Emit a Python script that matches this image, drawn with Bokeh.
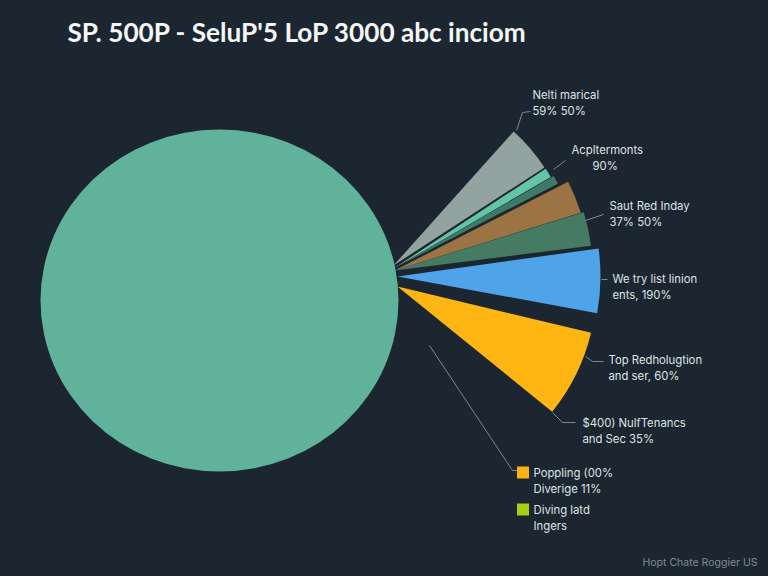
import numpy as np
from bokeh.core.properties import value
from bokeh.embed import file_html
from bokeh.models import Range1d
from bokeh.plotting import figure
from bokeh.resources import INLINE

# ---- data (share of the circle, %) ----
main_share = 76.0
slice_names = ["Nelti marical", "Acpltermonts", "Acpltermonts b", "Saut Red Inday", "Saut Red b", "We try list linion", "Top Redholugtion"]
slice_shares = [4.2, 0.85, 0.75, 2.75, 2.75, 5.1, 7.1]

title_text = "SP. 500P - SeluP'5 LoP 3000 abc inciom"
footer_text = "Hopt Chate Roggier US"
label_lines = ["Nelti marical", "59% 50%", "Acpltermonts", "90%", "Saut Red Inday", "37% 50%",
               "We try list linion", "ents, 190%", "Top Redholugtion", "and ser, 60%",
               "$400) NulfTenancs", "and Sec 35%", "Poppling (00%", "Diverige 11%", "Diving latd", "Ingers"]

# ---- layout and style (reference pixels, y down) ----
BG = "#1c2630"
W, H = 768, 576
slice_colors = ["#93a3a0", "#64c4a8", "#3f7a66", "#9c7443", "#457a63", "#4fa3e8", "#ffb612"]
slice_start = [33.0, 30.2, 27.3, 17.2, 7.2, -10.4, -39.0]
apex_x = [393, 393, 393, 394, 394, 397, 397]
apex_y = [265, 268, 268, 270, 270, 276, 286]
radius = [180, 182, 185, 195, 198, 203, 199]
label_x = [532, 532, 571, 592, 609, 609, 612, 612, 608, 608, 582, 582, 533, 533, 533, 533]
label_y = [94, 110, 149, 165, 205, 221, 278, 294, 359, 375, 422, 438, 472, 488, 509, 525]
leaders = [
    ([516, 522, 530], [130, 112, 111]),
    ([553, 565], [169, 160]),
    ([585, 603], [220, 214]),
    ([601, 607], [279, 279]),
    ([585, 592, 603], [356, 361, 361]),
    ([552, 562, 575], [412, 422, 422]),
    ([429, 512, 517], [345, 470, 470]),
]
legend_colors = ["#fbb016", "#a9cc17"]
legend_y = [472, 509]


def fy(v):
    return 576 - np.asarray(v, dtype=float)


p = figure(width=W, height=H, output_backend="svg", toolbar_location=None,
           x_range=Range1d(0, 768), y_range=Range1d(0, 576),
           min_border=0, background_fill_color=BG, border_fill_color=BG, outline_line_color=None)
p.axis.visible = False
p.grid.visible = False

starts = np.radians(slice_start)
ends = starts + np.radians(np.array(slice_shares) * 3.6)
p.wedge(x=apex_x, y=fy(apex_y), radius=radius, start_angle=starts, end_angle=ends,
        fill_color=slice_colors, line_color=None)

p.ellipse(x=[219], y=fy([300]), width=[358], height=[342], fill_color="#60b29b", line_color=None)

for xs, ys in leaders:
    p.line(xs, fy(ys), line_color="#7d8890", line_width=1)

p.scatter(x=[522.5, 522.5], y=fy(legend_y), size=12, marker="square", fill_color=legend_colors, line_color=None)

p.text(x=label_x, y=fy(label_y), text=label_lines, text_color="#dfe3e6", text_font=value("Inter"),
       text_font_size="11.3px", text_baseline="middle", text_align="left")
p.text(x=[67], y=fy([31]), text=[title_text], text_color="#f4f6f7", text_font=value("Lato"),
       text_font_style="bold", text_font_size="26.2px", text_baseline="middle")
p.text(x=[642], y=fy([562]), text=[footer_text], text_color="#7f8a90", text_font=value("Inter"),
       text_font_size="10.5px", text_baseline="middle")

html = file_html(p, INLINE)
html = html.replace("<head>", "<head><style>html,body{background:%s;}</style>" % BG, 1)
open("out.html", "w").write(html)
